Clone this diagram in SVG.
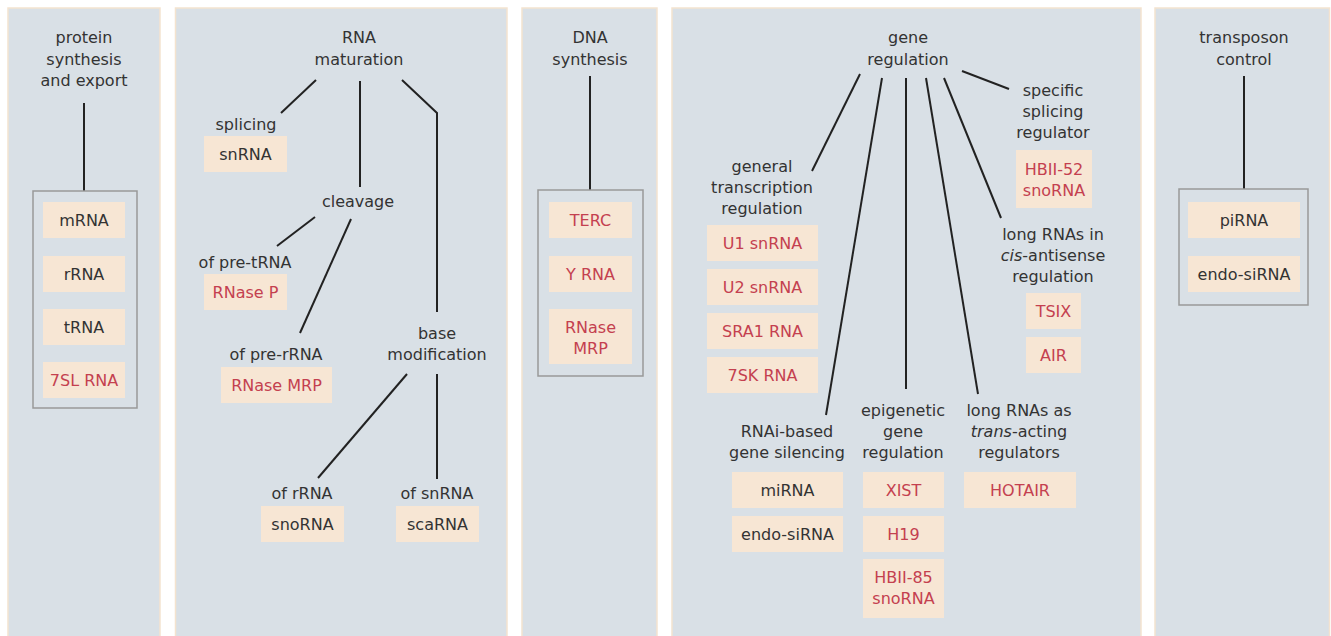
<svg xmlns="http://www.w3.org/2000/svg" width="1331" height="636" viewBox="0 0 1331 636">
<style>
.panel{fill:#d9e0e6;stroke:#f4e3cf;stroke-width:1.5}
.grp{fill:none;stroke:#999;stroke-width:1.5}
.box{fill:#f7e6d4}
text{font-family:"DejaVu Sans",sans-serif;font-size:16px;text-anchor:middle;fill:#333}
.r{fill:#c4404f}
.ln{stroke:#222;stroke-width:2;fill:none}
</style>
<rect width="1331" height="636" fill="#fff"/>
<g id="panels">
<rect class="panel" x="8" y="8" width="152" height="640"/>
<rect class="panel" x="175.5" y="8" width="331.5" height="640"/>
<rect class="panel" x="522" y="8" width="135" height="640"/>
<rect class="panel" x="672" y="8" width="469" height="640"/>
<rect class="panel" x="1155" y="8" width="174.5" height="640"/>
</g>
<g id="connectors">
<line class="ln" x1="84" y1="103" x2="84" y2="191"/>
<line class="ln" x1="316" y1="80" x2="281" y2="113"/>
<line class="ln" x1="360" y1="81" x2="360" y2="187"/>
<polyline class="ln" points="402,80 437,113 437,312"/>
<line class="ln" x1="315" y1="217" x2="277" y2="246"/>
<line class="ln" x1="351" y1="219" x2="300" y2="333"/>
<line class="ln" x1="407" y1="374" x2="318" y2="478"/>
<line class="ln" x1="437" y1="374" x2="437" y2="479"/>
<line class="ln" x1="590" y1="76" x2="590" y2="190"/>
<line class="ln" x1="860" y1="74" x2="812" y2="171"/>
<line class="ln" x1="882" y1="78" x2="826" y2="415"/>
<line class="ln" x1="906" y1="78" x2="906" y2="389"/>
<line class="ln" x1="926" y1="78" x2="978" y2="394"/>
<line class="ln" x1="944" y1="78" x2="1001" y2="218"/>
<line class="ln" x1="962" y1="71" x2="1009" y2="89"/>
<line class="ln" x1="1244" y1="76" x2="1244" y2="189"/>
</g>
<g id="protein-synthesis">
<text x="84" y="43">protein</text>
<text x="84" y="64.5">synthesis</text>
<text x="84" y="86">and export</text>
<rect class="grp" x="33" y="191" width="104" height="217"/>
<rect class="box" x="43" y="202" width="82" height="36"/><text x="84" y="226">mRNA</text>
<rect class="box" x="43" y="256" width="82" height="36"/><text x="84" y="280">rRNA</text>
<rect class="box" x="43" y="309" width="82" height="36"/><text x="84" y="333">tRNA</text>
<rect class="box" x="43" y="362" width="82" height="36"/><text class="r" x="84" y="386">7SL RNA</text>
</g>
<g id="rna-maturation">
<text x="359" y="43">RNA</text>
<text x="359" y="65">maturation</text>
</g>
<g id="splicing">
<text x="246" y="130">splicing</text>
<rect class="box" x="204" y="136" width="83" height="36"/><text x="245.5" y="160">snRNA</text>
</g>
<g id="cleavage">
<text x="358" y="207">cleavage</text>
</g>
<g id="pre-trna">
<text x="245" y="268">of pre-tRNA</text>
<rect class="box" x="204" y="274" width="83" height="36"/><text class="r" x="245.5" y="298">RNase P</text>
</g>
<g id="pre-rrna">
<text x="276" y="360">of pre-rRNA</text>
<rect class="box" x="221" y="367" width="111" height="36"/><text class="r" x="276.5" y="391">RNase MRP</text>
</g>
<g id="base-modification">
<text x="437" y="339">base</text>
<text x="437" y="360">modification</text>
</g>
<g id="of-rrna">
<text x="302" y="499">of rRNA</text>
<rect class="box" x="261" y="506" width="83" height="36"/><text x="302.5" y="530">snoRNA</text>
</g>
<g id="of-snrna">
<text x="437" y="499">of snRNA</text>
<rect class="box" x="396" y="506" width="83" height="36"/><text x="437.5" y="530">scaRNA</text>
</g>
<g id="dna-synthesis">
<text x="590" y="43">DNA</text>
<text x="590" y="65">synthesis</text>
<rect class="grp" x="538" y="190" width="105" height="186"/>
<rect class="box" x="549" y="202" width="83" height="36"/><text class="r" x="590.5" y="226">TERC</text>
<rect class="box" x="549" y="256" width="83" height="36"/><text class="r" x="590.5" y="280">Y RNA</text>
<rect class="box" x="549" y="309" width="83" height="55"/><text class="r" x="590.5" y="333">RNase</text><text class="r" x="590.5" y="354">MRP</text>
</g>
<g id="gene-regulation">
<text x="908" y="43">gene</text>
<text x="908" y="65">regulation</text>
</g>
<g id="general-transcription">
<text x="762" y="172">general</text>
<text x="762" y="193">transcription</text>
<text x="762" y="214">regulation</text>
<rect class="box" x="707" y="225" width="111" height="36"/><text class="r" x="762.5" y="249">U1 snRNA</text>
<rect class="box" x="707" y="269" width="111" height="36"/><text class="r" x="762.5" y="293">U2 snRNA</text>
<rect class="box" x="707" y="313" width="111" height="36"/><text class="r" x="762.5" y="337">SRA1 RNA</text>
<rect class="box" x="707" y="357" width="111" height="36"/><text class="r" x="762.5" y="381">7SK RNA</text>
</g>
<g id="rnai-silencing">
<text x="787" y="437">RNAi-based</text>
<text x="787" y="458">gene silencing</text>
<rect class="box" x="732" y="472" width="111" height="36"/><text x="787.5" y="496">miRNA</text>
<rect class="box" x="732" y="516" width="111" height="36"/><text x="787.5" y="540">endo-siRNA</text>
</g>
<g id="epigenetic">
<text x="903" y="416">epigenetic</text>
<text x="903" y="437">gene</text>
<text x="903" y="458">regulation</text>
<rect class="box" x="863" y="472" width="81" height="36"/><text class="r" x="903.5" y="496">XIST</text>
<rect class="box" x="863" y="516" width="81" height="36"/><text class="r" x="903.5" y="540">H19</text>
<rect class="box" x="863" y="559" width="81" height="59"/><text class="r" x="903.5" y="583">HBII-85</text><text class="r" x="903.5" y="604">snoRNA</text>
</g>
<g id="trans-acting">
<text x="1019" y="416">long RNAs as</text>
<text x="1019" y="437"><tspan font-style="italic">trans</tspan>-acting</text>
<text x="1019" y="458">regulators</text>
<rect class="box" x="964" y="472" width="112" height="36"/><text class="r" x="1020" y="496">HOTAIR</text>
</g>
<g id="specific-splicing">
<text x="1053" y="96">specific</text>
<text x="1053" y="117">splicing</text>
<text x="1053" y="138">regulator</text>
<rect class="box" x="1016" y="150" width="76" height="58"/><text class="r" x="1054" y="175">HBII-52</text><text class="r" x="1054" y="196">snoRNA</text>
</g>
<g id="cis-antisense">
<text x="1053" y="240">long RNAs in</text>
<text x="1053" y="261"><tspan font-style="italic">cis</tspan>-antisense</text>
<text x="1053" y="282">regulation</text>
<rect class="box" x="1026" y="293" width="55" height="36"/><text class="r" x="1053.5" y="317">TSIX</text>
<rect class="box" x="1026" y="337" width="55" height="36"/><text class="r" x="1053.5" y="361">AIR</text>
</g>
<g id="transposon-control">
<text x="1244" y="43">transposon</text>
<text x="1244" y="65">control</text>
<rect class="grp" x="1179" y="189" width="129" height="116"/>
<rect class="box" x="1188" y="202" width="112" height="36"/><text x="1244" y="226">piRNA</text>
<rect class="box" x="1188" y="256" width="112" height="36"/><text x="1244" y="280">endo-siRNA</text>
</g>
</svg>
